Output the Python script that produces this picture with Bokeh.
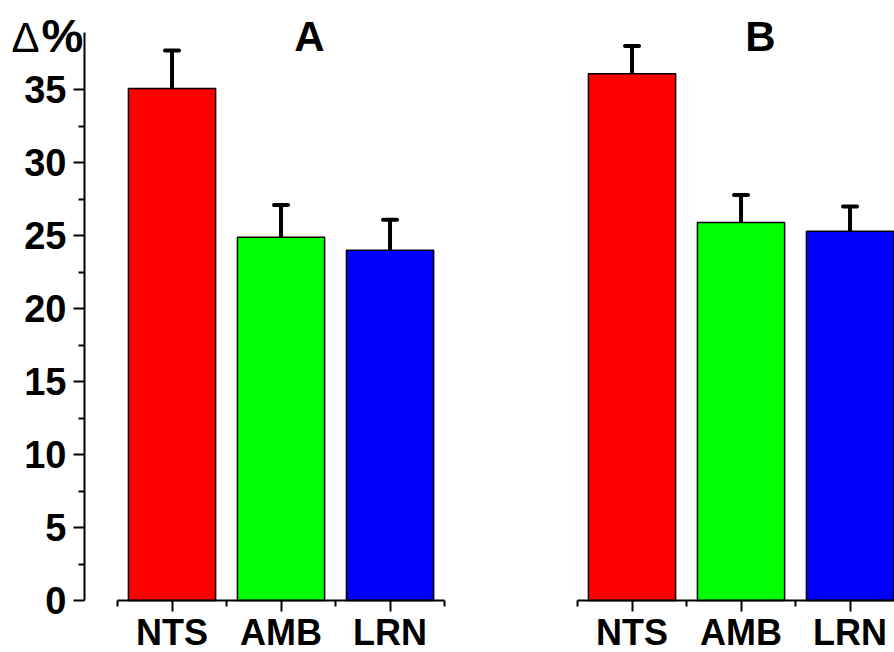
from bokeh.plotting import figure
from bokeh.models import Range1d, FixedTicker, Label, Whisker, ColumnDataSource, TeeHead
from bokeh.layouts import row
from bokeh.embed import file_html
from bokeh.resources import INLINE

categories = ["NTS", "AMB", "LRN"]
colors = ["#FF0000", "#00FF00", "#0000FF"]
values_a = [35.1, 24.9, 24.0]
errors_a = [2.6, 2.2, 2.1]
values_b = [36.1, 25.9, 25.3]
errors_b = [1.9, 1.9, 1.7]
y_ticks = [0, 5, 10, 15, 20, 25, 30, 35]
y_minor = [2.5, 7.5, 12.5, 17.5, 22.5, 27.5, 32.5]
y_axis_top = 38.93

FONT = "Liberation Sans"
PX = 109.0   # px per category unit
PY = 14.59   # px per y unit
X0 = -0.303  # data x at the y axis line
AXIS_PX = 84  # canvas x of the y axis line
BASE_PX = 600  # canvas y of value 0
H = 652


def cx(px):
    return X0 + (px - AXIS_PX) / PX


def cy(px):
    return (BASE_PX - px) / PY


def add_text(p, px, py, text, size_px, bold=True, align="left"):
    # py: desired alphabetic baseline in canvas px (empirical shift applied)
    shift = 0.38 * size_px
    kw = dict(text=text, text_font=FONT, text_font_size=f"{size_px}px", text_color="black",
              text_align=align, text_baseline="alphabetic")
    if bold:
        kw["text_font_style"] = "bold"
    p.add_layout(Label(x=cx(px), y=cy(py - shift), **kw))


def style_axis(ax, label_size, standoff):
    ax.axis_line_width = 2
    ax.major_tick_line_width = 2
    ax.minor_tick_line_width = 2
    ax.major_tick_out = 11
    ax.major_tick_in = 0
    ax.minor_tick_out = 6
    ax.minor_tick_in = 0
    ax.major_label_text_font = FONT
    ax.major_label_text_font_style = "bold"
    ax.major_label_text_font_size = label_size
    ax.major_label_text_color = "black"
    ax.major_label_standoff = standoff


def make_panel(values, errors, title, title_x, width, show_y):
    xs = [i + 0.5 for i in range(len(categories))]
    p = figure(width=width, height=H, output_backend="svg", toolbar_location=None,
               x_range=Range1d(cx(0), cx(width)), y_range=Range1d(cy(H), cy(0)),
               min_border_left=0, min_border_right=0, min_border_top=0, min_border_bottom=0)
    p.outline_line_color = None
    p.xgrid.visible = False
    p.ygrid.visible = False
    p.background_fill_color = "white"
    p.border_fill_color = "white"

    src = ColumnDataSource(dict(x=xs, top=values, upper=[v + e for v, e in zip(values, errors)],
                                color=colors))
    p.vbar(x="x", top="top", width=0.8, bottom=0, fill_color="color", line_color="black",
           line_width=1.5, source=src)
    w = Whisker(base="x", lower="top", upper="upper", source=src, dimension="height",
                line_width=4, line_color="black",
                upper_head=TeeHead(size=14, line_width=4, line_color="black", line_cap="round"),
                lower_head=None)
    p.add_layout(w)

    xa = p.xaxis[0]
    xa.fixed_location = 0
    xa.ticker = FixedTicker(ticks=xs, minor_ticks=[0, 1, 2, 3])
    xa.major_label_overrides = {x: c for x, c in zip(xs, categories)}
    xa.bounds = (0, 3)
    style_axis(xa, "36px", 0)

    ya = p.yaxis[0]
    if show_y:
        ya.fixed_location = X0
        ya.bounds = (0, y_axis_top)
        ya.ticker = FixedTicker(ticks=y_ticks, minor_ticks=y_minor)
        style_axis(ya, "38px", 7)
    else:
        ya.visible = False

    add_text(p, title_x, 52, title, 42, align="center")
    return p


pA = make_panel(values_a, errors_a, "A", 309, 460, True)
add_text(pA, 11, 53, "Δ", 42, bold=False)
add_text(pA, 41, 53, "%", 47, bold=True)
pB = make_panel(values_b, errors_b, "B", 760 - 460, 434, False)

layout = row(pA, pB)
open("out.html", "w").write(file_html(layout, INLINE))
